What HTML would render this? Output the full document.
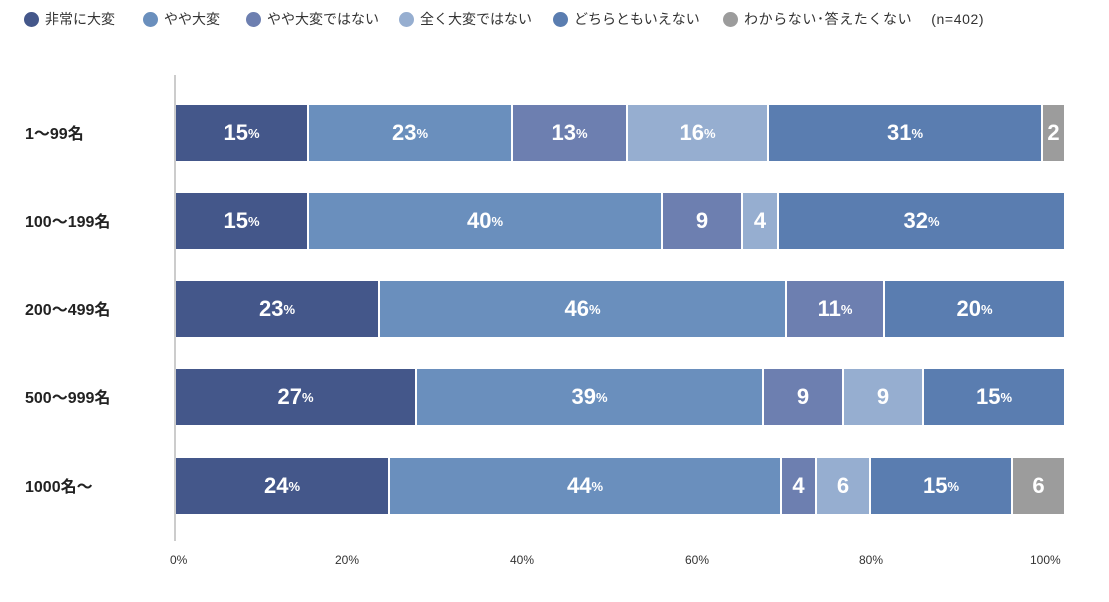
<!DOCTYPE html><html><head><meta charset="utf-8"><style>
body{margin:0;width:1109px;height:602px;background:#fff;position:relative;font-family:"Liberation Sans","Noto Sans CJK JP",sans-serif;overflow:hidden}
.s{position:absolute;height:56px;color:#fff;font-weight:bold;font-size:22px;display:flex;align-items:center;justify-content:center}
.s small{font-size:13px}
.l{position:absolute;left:25px;font-weight:bold;font-size:16px;color:#222}
.t{position:absolute;top:553px;font-size:12px;color:#333}
.lg{position:absolute;top:9px;font-size:14px;color:#333;display:flex;align-items:center}
.lg i{display:inline-block;width:15px;height:15px;border-radius:50%;margin-right:6px}
</style></head><body>
<div class="lg" style="left:24px"><i style="background:#44578a"></i>非常に大変</div>
<div class="lg" style="left:143px"><i style="background:#6a8fbd"></i>やや大変</div>
<div class="lg" style="left:246px"><i style="background:#6d7fb0"></i>やや大変ではない</div>
<div class="lg" style="left:399px"><i style="background:#96aed0"></i>全く大変ではない</div>
<div class="lg" style="left:553px"><i style="background:#5a7db0"></i>どちらともいえない</div>
<div class="lg" style="left:723px;letter-spacing:0.6px"><i style="background:#9c9c9c"></i>わからない･答えたくない　 (n=402)</div>
<div style="position:absolute;left:174px;top:75px;width:2px;height:466px;background:#ccc"></div>
<div class="l" style="top:120px">1〜99名</div>
<div class="l" style="top:208px">100〜199名</div>
<div class="l" style="top:296px">200〜499名</div>
<div class="l" style="top:384px">500〜999名</div>
<div class="l" style="top:473px">1000名〜</div>
<div id="bars"></div>
<div class="t" style="left:170px">0%</div><div class="t" style="left:335px">20%</div><div class="t" style="left:510px">40%</div><div class="t" style="left:685px">60%</div><div class="t" style="left:859px">80%</div><div class="t" style="left:1030px">100%</div>
<script>
var C=["#44578a","#6a8fbd","#6d7fb0","#96aed0","#5a7db0","#9c9c9c"];
var R=[[105,[176,308,512,627,768,1042,1064],[0,1,2,3,4,5],["15%","23%","13%","16%","31%","2"]],
[193,[176,308,662,742,778,1064],[0,1,2,3,4],["15%","40%","9","4","32%"]],
[281,[176,379,786,884,1064],[0,1,2,4],["23%","46%","11%","20%"]],
[369,[176,416,763,843,923,1064],[0,1,2,3,4],["27%","39%","9","9","15%"]],
[458,[176,389,781,816,870,1012,1064],[0,1,2,3,4,5],["24%","44%","4","6","15%","6"]]];
var h="";R.forEach(function(r){for(var i=0;i<r[2].length;i++){var a=i?r[1][i]+1:176,b=r[1][i+1]-(i==r[2].length-1?0:1);var t=r[3][i].replace("%","<small>%</small>");h+='<div class="s" style="top:'+r[0]+'px;left:'+a+'px;width:'+(b-a)+'px;background:'+C[r[2][i]]+'">'+t+'</div>';}});
document.getElementById("bars").innerHTML=h;
</script>
</body></html>
